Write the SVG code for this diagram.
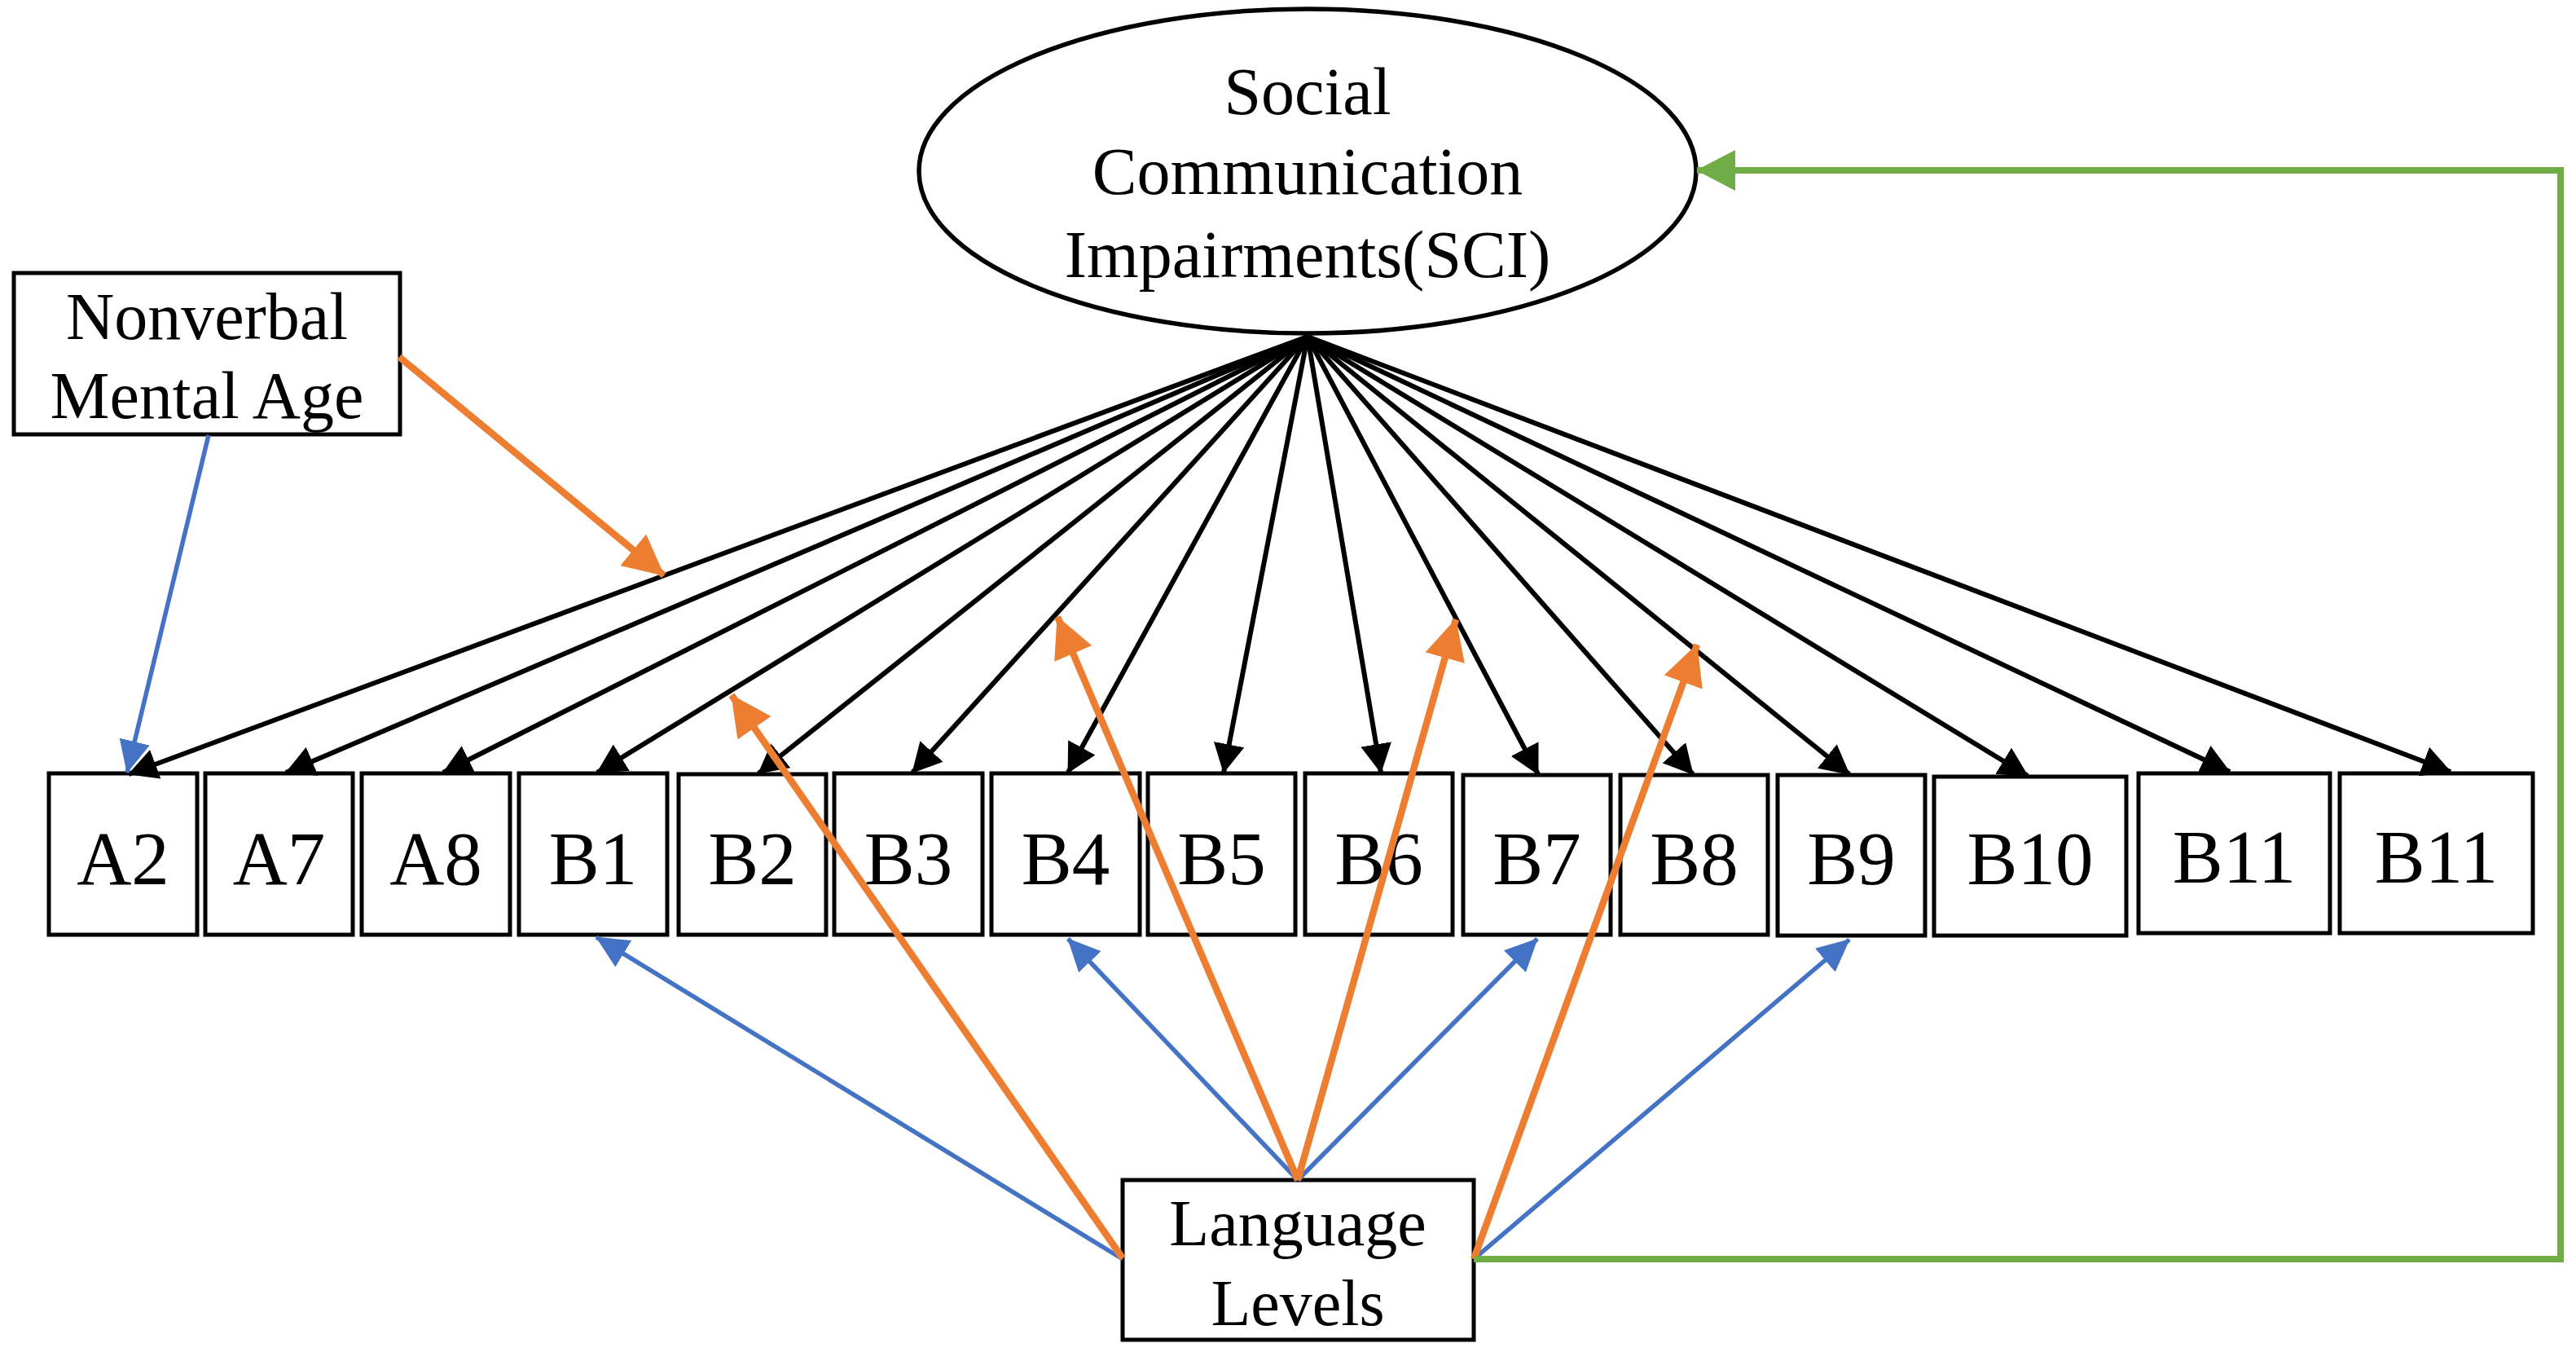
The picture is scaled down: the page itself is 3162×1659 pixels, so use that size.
<svg xmlns="http://www.w3.org/2000/svg" width="3162" height="1659" viewBox="0 0 3162 1659">
<style>
  .box { fill: #ffffff; stroke: #000000; stroke-width: 5; }
  .ell { fill: #ffffff; stroke: #000000; stroke-width: 5.5; }
  .lbl { font-family: "Liberation Serif", "Times New Roman", serif; fill: #000000; text-anchor: middle; }
  .big { font-size: 93px; }
  .mid { font-size: 82px; }
  .blk { stroke: #000000; stroke-width: 6; fill: none; marker-end: url(#mBlack); }
  .blu { stroke: #4472C4; stroke-width: 5.5; fill: none; marker-end: url(#mBlue); }
  .org { stroke: #ED7D31; stroke-width: 8.5; fill: none; marker-end: url(#mOrange); }
  .grn { stroke: #70AD47; stroke-width: 8; fill: none; marker-end: url(#mGreen); stroke-linejoin: miter; }
</style>
<defs>
  <marker id="mBlack" markerUnits="userSpaceOnUse" markerWidth="36" markerHeight="38" refX="35" refY="19" orient="auto">
    <path d="M0,0 L36,19 L0,38 z" fill="#000000"/>
  </marker>
  <marker id="mBlue" markerUnits="userSpaceOnUse" markerWidth="40" markerHeight="38" refX="39" refY="19" orient="auto">
    <path d="M0,0 L40,19 L0,38 z" fill="#4472C4"/>
  </marker>
  <marker id="mOrange" markerUnits="userSpaceOnUse" markerWidth="50" markerHeight="50" refX="49" refY="25" orient="auto">
    <path d="M0,0 L50,25 L0,50 z" fill="#ED7D31"/>
  </marker>
  <marker id="mGreen" markerUnits="userSpaceOnUse" markerWidth="48" markerHeight="50" refX="47" refY="25" orient="auto">
    <path d="M0,0 L48,25 L0,50 z" fill="#70AD47"/>
  </marker>
</defs>

<g id="sci">
  <ellipse class="ell" cx="1605" cy="210" rx="477" ry="199"/>
  <text class="lbl mid" x="1605" y="140">Social</text>
  <text class="lbl mid" x="1605" y="238">Communication</text>
  <text class="lbl mid" x="1605" y="340">Impairments(SCI)</text>
</g>

<g id="nonverbal">
  <rect class="box" x="17" y="335" width="474" height="198"/>
  <text class="lbl mid" x="254" y="416">Nonverbal</text>
  <text class="lbl mid" x="254" y="513">Mental Age</text>
</g>

<g id="language">
  <rect class="box" x="1378" y="1448" width="431" height="196"/>
  <text class="lbl" style="font-size:80px" x="1593" y="1528">Language</text>
  <text class="lbl" style="font-size:80px" x="1593" y="1626">Levels</text>
</g>

<g id="item-A2"><rect class="box" x="60" y="949" width="182" height="198"/><text class="lbl big" x="151" y="1085">A2</text></g>
<g id="item-A7"><rect class="box" x="252" y="949" width="181" height="198"/><text class="lbl big" x="342.5" y="1085">A7</text></g>
<g id="item-A8"><rect class="box" x="444" y="949" width="182" height="198"/><text class="lbl big" x="535" y="1085">A8</text></g>
<g id="item-B1"><rect class="box" x="637" y="949" width="182" height="198"/><text class="lbl big" x="728" y="1085">B1</text></g>
<g id="item-B2"><rect class="box" x="833" y="950" width="181" height="197"/><text class="lbl big" x="923.5" y="1085">B2</text></g>
<g id="item-B3"><rect class="box" x="1024" y="949" width="182" height="198"/><text class="lbl big" x="1115" y="1085">B3</text></g>
<g id="item-B4"><rect class="box" x="1217" y="949" width="182" height="198"/><text class="lbl big" x="1308" y="1085">B4</text></g>
<g id="item-B5"><rect class="box" x="1409" y="949" width="181" height="198"/><text class="lbl big" x="1499.5" y="1085">B5</text></g>
<g id="item-B6"><rect class="box" x="1602" y="949" width="181" height="198"/><text class="lbl big" x="1692.5" y="1085">B6</text></g>
<g id="item-B7"><rect class="box" x="1796" y="951" width="181" height="196"/><text class="lbl big" x="1886.5" y="1085">B7</text></g>
<g id="item-B8"><rect class="box" x="1989" y="951" width="181" height="196"/><text class="lbl big" x="2079.5" y="1085">B8</text></g>
<g id="item-B9"><rect class="box" x="2182" y="951" width="181" height="197"/><text class="lbl big" x="2272.5" y="1085">B9</text></g>
<g id="item-B10"><rect class="box" x="2374" y="953" width="236" height="195"/><text class="lbl big" x="2492" y="1085">B10</text></g>
<g id="item-B11a"><rect class="box" x="2625" y="949" width="235" height="196"/><text class="lbl big" x="2742.5" y="1083">B11</text></g>
<g id="item-B11b"><rect class="box" x="2872" y="949" width="237" height="196"/><text class="lbl big" x="2990.5" y="1083">B11</text></g>

<g id="connectors">
  <line class="blk" x1="1605" y1="413" x2="158" y2="950"/>
  <line class="blk" x1="1605" y1="413" x2="351" y2="948"/>
  <line class="blk" x1="1605" y1="413" x2="544" y2="948"/>
  <line class="blk" x1="1605" y1="413" x2="733" y2="948"/>
  <line class="blk" x1="1605" y1="413" x2="931" y2="949"/>
  <line class="blk" x1="1605" y1="413" x2="1120" y2="948"/>
  <line class="blk" x1="1605" y1="413" x2="1311" y2="948"/>
  <line class="blk" x1="1605" y1="413" x2="1502" y2="948"/>
  <line class="blk" x1="1605" y1="413" x2="1695" y2="948"/>
  <line class="blk" x1="1605" y1="413" x2="1888" y2="950"/>
  <line class="blk" x1="1605" y1="413" x2="2078" y2="950"/>
  <line class="blk" x1="1605" y1="413" x2="2270" y2="950"/>
  <line class="blk" x1="1605" y1="413" x2="2489" y2="952"/>
  <line class="blk" x1="1605" y1="413" x2="2737" y2="947"/>
  <line class="blk" x1="1605" y1="413" x2="3008" y2="947"/>

  <line class="blu" x1="256" y1="534" x2="156" y2="948"/>
  <line class="blu" x1="1378" y1="1545" x2="732" y2="1150"/>
  <line class="blu" x1="1593" y1="1448" x2="1311" y2="1152"/>
  <line class="blu" x1="1593" y1="1448" x2="1887" y2="1152"/>
  <line class="blu" x1="1809" y1="1545" x2="2270" y2="1153"/>

  <line class="org" x1="490" y1="438" x2="815" y2="706"/>
  <line class="org" x1="1378" y1="1544" x2="898" y2="853"/>
  <line class="org" x1="1593" y1="1448" x2="1298" y2="757"/>
  <line class="org" x1="1593" y1="1448" x2="1787" y2="760"/>
  <line class="org" x1="1809" y1="1545" x2="2083" y2="791"/>

  <polyline class="grn" points="1809,1545 3143,1545 3143,209 2083,209"/>
</g>
</svg>
